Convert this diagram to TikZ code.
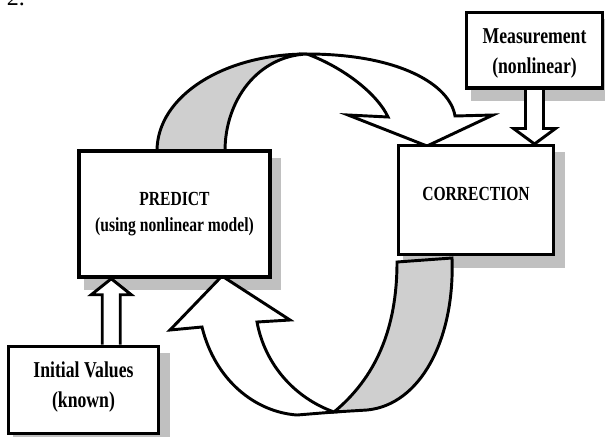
\documentclass[tikz,border=0pt]{standalone}
\usepackage{fontspec}
\setmainfont{Liberation Serif}
\newfontfamily\tnr[FakeStretch=0.78]{Liberation Serif}
\usetikzlibrary{calc}
\pgfdeclarelayer{bg}
\pgfdeclarelayer{mid}
\pgfsetlayers{bg,mid,main}
\definecolor{shadowgray}{HTML}{C0C0C0}
\definecolor{bandgray}{HTML}{CFCFCF}
\begin{document}
\begin{tikzpicture}[x=0.75pt,y=-0.75pt,
  box/.style={draw,line width=2.6pt,fill=white,inner sep=0pt},
  arr/.style={draw,line width=2.2pt,fill=white,line join=miter},
  band/.style={draw,line width=2.2pt,fill=bandgray,line join=miter},
  bigtxt/.style={font=\tnr\bfseries\fontsize{17}{20}\selectfont,anchor=base,inner sep=0pt},
  smalltxt/.style={font=\tnr\bfseries\fontsize{15}{18}\selectfont,anchor=base,inner sep=0pt},
]
\useasboundingbox (0,0) rectangle (605,436);

% boxes
\node[box,minimum width=143.25pt,minimum height=94.5pt] (pred) at (174.5,214) {};
\node[box,minimum width=116.25pt,minimum height=81.4pt] (corr) at (476,200) {};
\node[box,minimum width=102pt,minimum height=56.6pt] (meas) at (534.5,50.25) {};
\node[box,minimum width=112.5pt,minimum height=65.6pt] (init) at (83.5,390) {};

% texts
\node[smalltxt] (predA) at (174.5,205) {PREDICT};
\node[smalltxt] (predB) at (174.5,231) {(using nonlinear model)};
\node[smalltxt] (corrA) at (476,200) {CORRECTION};
\node[bigtxt] (measA) at (534.5,43) {Measurement};
\node[bigtxt] (measB) at (534.5,73) {(nonlinear)};
\node[bigtxt] (initA) at (83.5,377) {Initial Values};
\node[bigtxt] (initB) at (83.5,407.5) {(known)};
\node[anchor=base,inner sep=0pt,font=\fontsize{18}{20}\selectfont] (num) at (16,5) {2.};

% shadows
\begin{pgfonlayer}{bg}
\foreach \n in {pred,corr,meas,init}
  \fill[shadowgray] ($(\n.south west)+(6.3,11.7)$) rectangle ($(\n.north east)+(9.7,8.3)$);
\end{pgfonlayer}

% arrows
\begin{pgfonlayer}{mid}
% top ribbon arrow: PREDICT -> CORRECTION
\draw[band] (157,151) .. controls (157,96) and (224,54) .. (307,54)
  .. controls (258,56) and (225,100) .. (225,151) -- cycle;
\coordinate (topTip) at (427,146);
\draw[arr] (307,54) .. controls (400,54) and (450,85) .. (455,116)
  -- (493,115) -- (topTip) -- (348,115) -- (388,117)
  .. controls (378,95) and (345,68) .. (307,54) -- cycle;
% bottom ribbon arrow: CORRECTION -> PREDICT
\draw[band] (397,262) -- (452,258) .. controls (455,340) and (420,405) .. (367,410)
  -- (334,412) .. controls (375,378) and (397,330) .. (397,262) -- cycle;
\coordinate (botTip) at (222,276);
\draw[arr] (botTip) -- (290,320) -- (257,322)
  .. controls (265,365) and (295,398) .. (334,412)
  -- (297,415) .. controls (255,412) and (215,380) .. (202,327)
  -- (170,330) -- cycle;
% Initial Values -> PREDICT
\path (pred.south west) ++(34,0) coordinate (upTip);
\coordinate (upBase) at (upTip |- init.north);
\draw[arr] ($(upBase)+(-9,0)$) -- ($(upTip)+(-9,16)$) -- ($(upTip)+(-20,16)$)
  -- (upTip) -- ($(upTip)+(20,16)$) -- ($(upTip)+(9,16)$) -- ($(upBase)+(9,0)$);
% Measurement -> CORRECTION
\coordinate (dnTip) at (meas.south |- corr.north);
\draw[arr] ($(meas.south)+(-9,0)$) -- ($(dnTip)+(-9,-15.5)$) -- ($(dnTip)+(-21,-15.5)$)
  -- (dnTip) -- ($(dnTip)+(21,-15.5)$) -- ($(dnTip)+(9,-15.5)$) -- ($(meas.south)+(9,0)$);
\end{pgfonlayer}
\end{tikzpicture}
\end{document}
